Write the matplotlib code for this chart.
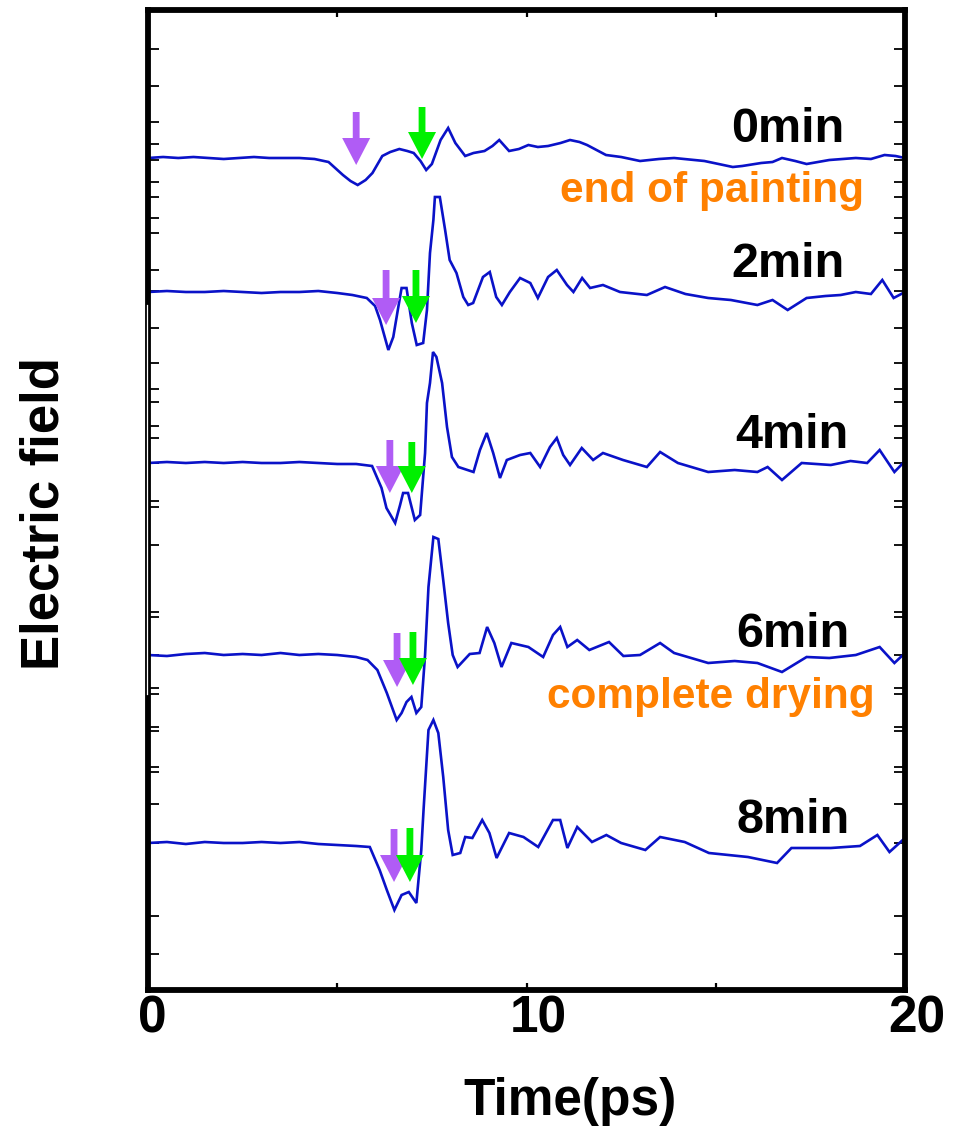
import matplotlib
matplotlib.use('Agg')
import matplotlib.pyplot as plt
import matplotlib.transforms as mtransforms
from matplotlib.lines import Line2D

plt.rcParams['font.family'] = ['Liberation Sans', 'DejaVu Sans']

# ---------------- data (time in ps, amplitude in arbitrary units) ----------------
labels = ['0min', '2min', '4min', '6min', '8min']
offsets = [832, 698, 527, 335, 147]

t0 = [0, 0.4, 0.8, 1.2, 1.6, 2.0, 2.4, 2.8, 3.2, 3.6, 4.0, 4.4, 4.77, 5.15, 5.35, 5.54, 5.75,
      5.93, 6.19, 6.4, 6.64, 6.85, 7.02, 7.2, 7.35, 7.5, 7.73, 7.93, 8.12, 8.38, 8.6, 8.89,
      9.1, 9.28, 9.54, 9.8, 10.05, 10.3, 10.57, 10.9, 11.15, 11.4, 11.6, 12.1, 12.5, 13.0,
      13.5, 13.9, 14.7, 15.2, 15.45, 15.7, 16.2, 16.5, 16.75, 17.1, 17.4, 18.0, 18.7, 19.1,
      19.46, 19.75, 20]
a0 = [0, 1, 0, 1, 0, -1, 0, 1, 0, 0, 0, -1, -4, -17, -23, -27, -22,
      -15, 2, 6, 9, 7, 5, -3, -12, -6, 18, 30, 15, 2, 5, 7,
      12, 18, 7, 9, 13, 11, 12, 15, 18, 16, 13, 3, 1, -3,
      -1, 0, -3, -7, -9, -8, -5, -4, 0, -3, -6, -2, 0, -1,
      3, 2, 0]

t2 = [0, 0.5, 1.0, 1.5, 2.0, 2.5, 3.0, 3.5, 4.0, 4.5, 5.0, 5.4, 5.78, 6.0, 6.13, 6.35, 6.48,
      6.6, 6.7, 6.83, 6.97, 7.1, 7.27, 7.37, 7.45, 7.54, 7.58, 7.71, 7.85, 7.97, 8.15, 8.33,
      8.46, 8.59, 8.85, 9.03, 9.2, 9.35, 9.56, 9.83, 10.1, 10.3, 10.57, 10.8, 11.07, 11.24,
      11.47, 11.68, 12.02, 12.47, 13.18, 13.66, 14.2, 14.8, 15.4, 16.1, 16.5, 16.9, 17.4,
      17.9, 18.3, 18.7, 19.1, 19.4, 19.7, 20]
a2 = [0, 1, 0, 0, 1, 0, -1, 0, 0, 1, -1, -3, -6, -14, -28, -58, -45,
      -18, 4, 4, -31, -53, -51, -18, 39, 72, 95, 95, 62, 32, 19, -5,
      -13, -11, 15, 20, -5, -13, 0, 14, 9, -6, 15, 22, 7, 0,
      14, 4, 7, 0, -3, 5, -2, -6, -8, -13, -8, -18, -6,
      -4, -3, 0, -2, 12, -6, 0]

t4 = [0, 0.5, 1.0, 1.5, 2.0, 2.5, 3.0, 3.5, 4.0, 4.5, 5.0, 5.5, 5.92, 6.17, 6.3, 6.53, 6.66,
      6.74, 6.87, 7.05, 7.19, 7.32, 7.37, 7.45, 7.53, 7.62, 7.77, 7.9, 8.03, 8.2, 8.6, 8.77,
      8.95, 9.12, 9.3, 9.48, 9.83, 10.1, 10.36, 10.62, 10.8, 10.97, 11.15, 11.46, 11.76,
      12.02, 12.55, 13.18, 13.53, 14.0, 14.8, 15.5, 16.1, 16.37, 16.75, 17.27, 18.04, 18.56,
      19.0, 19.33, 19.72, 20]
a4 = [0, 1, 0, 1, 0, 1, 0, 0, 1, 0, -1, -1, -3, -25, -45, -60, -42,
      -30, -30, -57, -52, 10, 60, 80, 111, 106, 80, 36, 6, -4, -9, 13,
      30, 10, -15, 3, 8, 10, -4, 16, 25, 8, -2, 15, 3,
      10, 3, -4, 11, 0, -9, -7, -9, -4, -17, 0, -2, 2,
      0, 13, -9, 2]

t6 = [0, 0.5, 1.0, 1.5, 2.0, 2.5, 3.0, 3.5, 4.0, 4.5, 5.0, 5.5, 5.8, 6.06, 6.31, 6.57, 6.7,
      6.83, 6.96, 7.09, 7.22, 7.32, 7.41, 7.54, 7.67, 7.8, 7.93, 8.05, 8.18, 8.5, 8.76,
      8.96, 9.15, 9.34, 9.6, 10.05, 10.44, 10.7, 10.89, 11.08, 11.34, 11.66, 12.18, 12.56,
      13.0, 13.53, 13.9, 14.8, 15.5, 16.1, 16.75, 17.4, 18.0, 18.7, 19.33, 19.72, 20]
a6 = [0, -1, 1, 2, 0, 1, 0, 2, 0, 1, 0, -2, -5, -15, -38, -65, -58,
      -47, -42, -58, -52, 0, 68, 118, 116, 75, 32, 0, -12, 1, 2,
      28, 12, -12, 12, 8, -2, 20, 28, 8, 15, 5, 13, -1,
      0, 12, 2, -8, -6, -8, -17, -2, -3, 0, 8, -8, 2]

t8 = [0, 0.5, 1.0, 1.5, 2.0, 2.5, 3.0, 3.5, 4.0, 4.5, 5.0, 5.5, 5.86, 6.12, 6.31, 6.51, 6.7,
      6.89, 7.09, 7.22, 7.28, 7.41, 7.54, 7.67, 7.8, 7.93, 8.05, 8.25, 8.38, 8.57, 8.83,
      9.02, 9.21, 9.54, 9.92, 10.31, 10.7, 10.89, 11.08, 11.34, 11.73, 12.11, 12.5, 13.14,
      13.53, 14.18, 14.82, 15.85, 16.62, 17.0, 18.04, 18.81, 19.27, 19.59, 20]
a8 = [0, 1, -1, 1, 0, 0, 1, 0, 1, -1, -2, -3, -4, -27, -47, -67, -52,
      -49, -60, -7, 33, 113, 123, 110, 66, 13, -12, -10, 6, 5, 23,
      10, -15, 10, 6, -4, 23, 23, -5, 16, 1, 8, 0, -7,
      6, 1, -10, -14, -20, -5, -5, -3, 8, -9, 5]

times = [t0, t2, t4, t6, t8]
amps = [a0, a2, a4, a6, a8]

# arrow markers (time of arrow, top and tip heights)
purple_t = [5.50, 6.29, 6.39, 6.58, 6.50]
purple_top = [878, 720, 550, 357, 161]
purple_tip = [825, 665, 497, 303, 108]
green_t = [7.24, 7.08, 6.97, 7.00, 6.92]
green_top = [883, 720, 548, 358, 162]
green_tip = [831, 667, 497, 305, 108]

# annotations
label_x = [16.91, 16.91, 17.01, 17.04, 17.04]
label_y = [848, 713, 542, 343, 157]
notes = ['end of painting', 'complete drying']
note_x = [14.9, 14.87]
note_y = [788, 282]

x_ticks = [0, 5, 10, 15, 20]
x_ticklabels = ['0', '', '10', '', '20']
y_tick_px = [49, 86, 122, 144, 160, 182, 197, 218, 233, 270, 291, 328, 363, 389, 402, 426,
             438, 463, 501, 507, 545, 612, 617, 655, 688, 694, 727, 731, 767, 772, 804, 843,
             916, 954]

# ---------------- figure ----------------
W, H = 958, 1128
fig = plt.figure(figsize=(W / 100, H / 100), dpi=100)
ax = fig.add_axes([148 / W, 1 - 990 / H, (905 - 148) / W, (990 - 10) / H])
ax.set_xlim(0, 20)
ax.set_ylim(0, 980)

line_color = '#0a12c8'
for t, a, off in zip(times, amps, offsets):
    ax.plot(t, [off + v for v in a], color=line_color, lw=1.9, solid_joinstyle='miter')

def draw_arrow(x, top, tip, color):
    ax.arrow(x, top, 0, tip - top, width=0.18, head_width=0.74, head_length=27,
             length_includes_head=True, color=color, lw=0, zorder=5)

for i in range(5):
    draw_arrow(purple_t[i], purple_top[i], purple_tip[i], '#b05cf5')
    draw_arrow(green_t[i], green_top[i], green_tip[i], '#00f000')

for lab, x, y in zip(labels, label_x, label_y):
    ax.text(x, y, lab, fontsize=35, fontweight='bold', ha='center', va='baseline', color='black')
for lab, x, y in zip(notes, note_x, note_y):
    ax.text(x, y, lab, fontsize=30.5, fontweight='bold', ha='center', va='baseline', color='#ff8000')

# axes styling
for s in ax.spines.values():
    s.set_linewidth(4.2)
ax.set_xticks(x_ticks)
ax.set_xticklabels(x_ticklabels)
ax.set_yticks([990 - p for p in y_tick_px])
ax.set_yticklabels([])
ax.tick_params(axis='y', direction='in', left=True, right=True, length=8, width=1.3)
ax.tick_params(axis='x', direction='in', bottom=True, top=True, length=5, width=1.6,
               labelsize=37, pad=3)
for lbl in ax.get_xticklabels():
    lbl.set_fontweight('bold')
shifts = {'0': 4, '10': 12, '20': 12}
for lbl in ax.get_xticklabels():
    d = shifts.get(lbl.get_text(), 0)
    lbl.set_transform(lbl.get_transform() + mtransforms.ScaledTranslation(d / 100, 0, fig.dpi_scale_trans))

# white stripe in left spine
fig.add_artist(Line2D([146.5 / W, 146.5 / W], [1 - 305 / H, 1 - 694 / H], color='white', lw=0.9))

fig.text(45 / W, 1 - 513 / H, 'Electric field', rotation=90, fontsize=38, fontweight='bold',
         ha='center', va='center')
fig.text(570 / W, 1 - 1115 / H, 'Time(ps)', fontsize=37, fontweight='bold', ha='center',
         va='baseline')

fig.savefig('out.png', dpi=100)
